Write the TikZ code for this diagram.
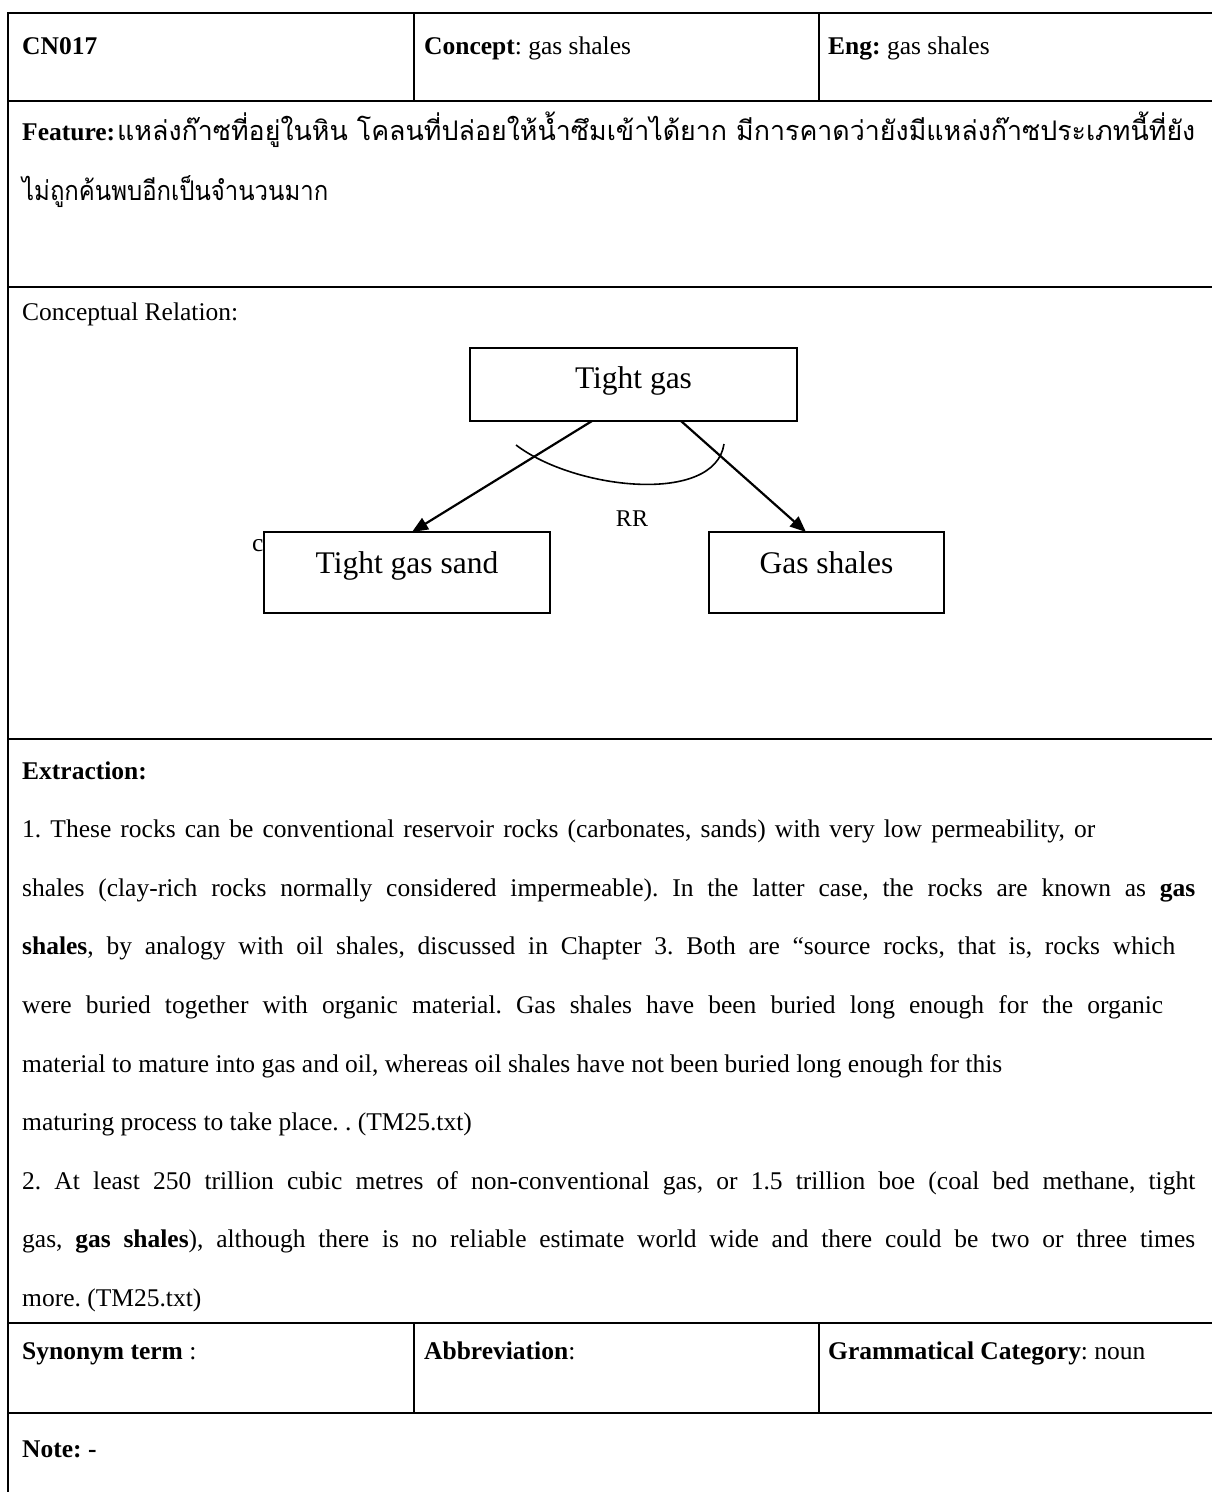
\documentclass[tikz,border=0pt]{standalone}
\usepackage{fontspec}
\usepackage{graphicx}
\setmainfont{Liberation Serif}
\newfontfamily\thaifont[Script=Thai]{Loma}
\usetikzlibrary{arrows.meta}
\frenchspacing

% stretch a box horizontally so that it is exactly #1 wide
\newcommand\fitwidth[2]{\sbox0{#2}\edef\fitratio{\fpeval{#1/\wd0}}\scalebox{\fitratio}[1]{\usebox0}}
% spread the words of a line over #1
\newcommand\spreadline[2]{\makebox[#1][s]{#2}}

\begin{document}
\begin{tikzpicture}[x=1pt,y=-1pt,
  txt/.style={anchor=base west,inner sep=0pt,font=\fontsize{25.5}{30}\selectfont},
  rule/.style={line width=2pt},
  thinrule/.style={line width=1.6pt},
  conceptbox/.style={draw,line width=1.6pt,fill=white,minimum width=#1,inner sep=0pt},
  label/.style={anchor=base,inner sep=0pt,font=\fontsize{31.5}{34}\selectfont},
  rel/.style={line width=2.2pt,-{Triangle[length=16pt,width=13pt]}}]
\useasboundingbox (0,0) rectangle (1212,1497);
\fill[white] (0,0) rectangle (1212,1497);

% table frame
\draw[rule] (1216,12.5) -- (8,12.5) -- (8,1492);
\foreach \yy in {101,287,739,1323,1413}
  \draw[rule] (8,\yy) -- (1216,\yy);
\draw[thinrule] (414,12.5) -- (414,101);
\draw[thinrule] (819,12.5) -- (819,101);
\draw[thinrule] (414,1323) -- (414,1413);
\draw[thinrule] (819,1323) -- (819,1413);

% header row
\node[txt] (id) at (22,54) {\textbf{CN017}};
\node[txt] (concept) at (424,54) {\textbf{Concept}: gas shales};
\node[txt] (eng) at (828,54) {\textbf{Eng:} gas shales};

% feature
\node[txt] (feat) at (22,140) {\textbf{Feature:}};
\node[txt] (th1) at (117,140) {\fitwidth{1078pt}{\thaifont\fontsize{27}{30}\selectfont แหล่งก๊าซที่อยู่ในหิน โคลนที่ปล่อยให้น้ำซึมเข้าได้ยาก มีการคาดว่ายังมีแหล่งก๊าซประเภทนี้ที่ยัง}};
\node[txt] (th2) at (22,200) {\fitwidth{306pt}{\thaifont\fontsize{27}{30}\selectfont ไม่ถูกค้นพบอีกเป็นจำนวนมาก}};

% conceptual relation
\node[txt] (crel) at (22,320) {Conceptual Relation:};
\node[txt] at (252,551) {c};
\node[conceptbox=327pt,minimum height=73pt] (tg) at (633.5,384.5) {};
\node[label] at (633.5,388) {Tight gas};
\node[conceptbox=286pt,minimum height=81pt] (tgs) at (407,572.5) {};
\node[label] at (407,573) {Tight gas sand};
\node[conceptbox=235pt,minimum height=81pt] (gs) at (826.5,572.5) {};
\node[label] at (826.5,573) {Gas shales};
\coordinate (a1) at (592,421);
\coordinate (a2) at (681,421);
\coordinate (t1) at (412,532);
\coordinate (t2) at (806,532);
\draw[rel] (a1) -- (t1);
\draw[rel] (a2) -- (t2);
\coordinate (arcL) at (516,445);
\coordinate (arcR) at (724,444);
\draw[line width=1.6pt] (arcL) .. controls (575,490) and (715,505) .. (arcR);
\node[inner sep=0pt,font=\fontsize{24}{26}\selectfont] (rr) at (632,519) {RR};

% extraction
\node[txt] (ex) at (22,779) {\textbf{Extraction:}};
\node[txt] at (22,837.6) {\spreadline{1073pt}{1. These rocks can be conventional reservoir rocks (carbonates, sands) with very low permeability, or}};
\node[txt] at (22,896.2) {\spreadline{1173pt}{shales (clay‐rich rocks normally considered impermeable). In the latter case, the rocks are known as \textbf{gas}}};
\node[txt] at (22,954.8) {\spreadline{1153pt}{\textbf{shales}, by analogy with oil shales, discussed in Chapter 3. Both are “source rocks, that is, rocks which}};
\node[txt] at (22,1013.4) {\spreadline{1141pt}{were buried together with organic material. Gas shales have been buried long enough for the organic}};
\node[txt] at (22,1072) {material to mature into gas and oil, whereas oil shales have not been buried long enough for this};
\node[txt] at (22,1130.6) {maturing process to take place. . (TM25.txt)};
\node[txt] at (22,1189.2) {\spreadline{1173pt}{2. At least 250 trillion cubic metres of non‐conventional gas, or 1.5 trillion boe (coal bed methane, tight}};
\node[txt] at (22,1247.8) {\spreadline{1173pt}{gas, \textbf{gas shales}), although there is no reliable estimate world wide and there could be two or three times}};
\node[txt] at (22,1306.4) {more. (TM25.txt)};

% synonym row
\node[txt] (syn) at (22,1359) {\textbf{Synonym term} :};
\node[txt] (abbr) at (424,1359) {\textbf{Abbreviation}:};
\node[txt] (gram) at (828,1359) {\textbf{Grammatical Category}: noun};

% note
\node[txt] (note) at (22,1457) {\textbf{Note: -}};
\end{tikzpicture}
\end{document}
